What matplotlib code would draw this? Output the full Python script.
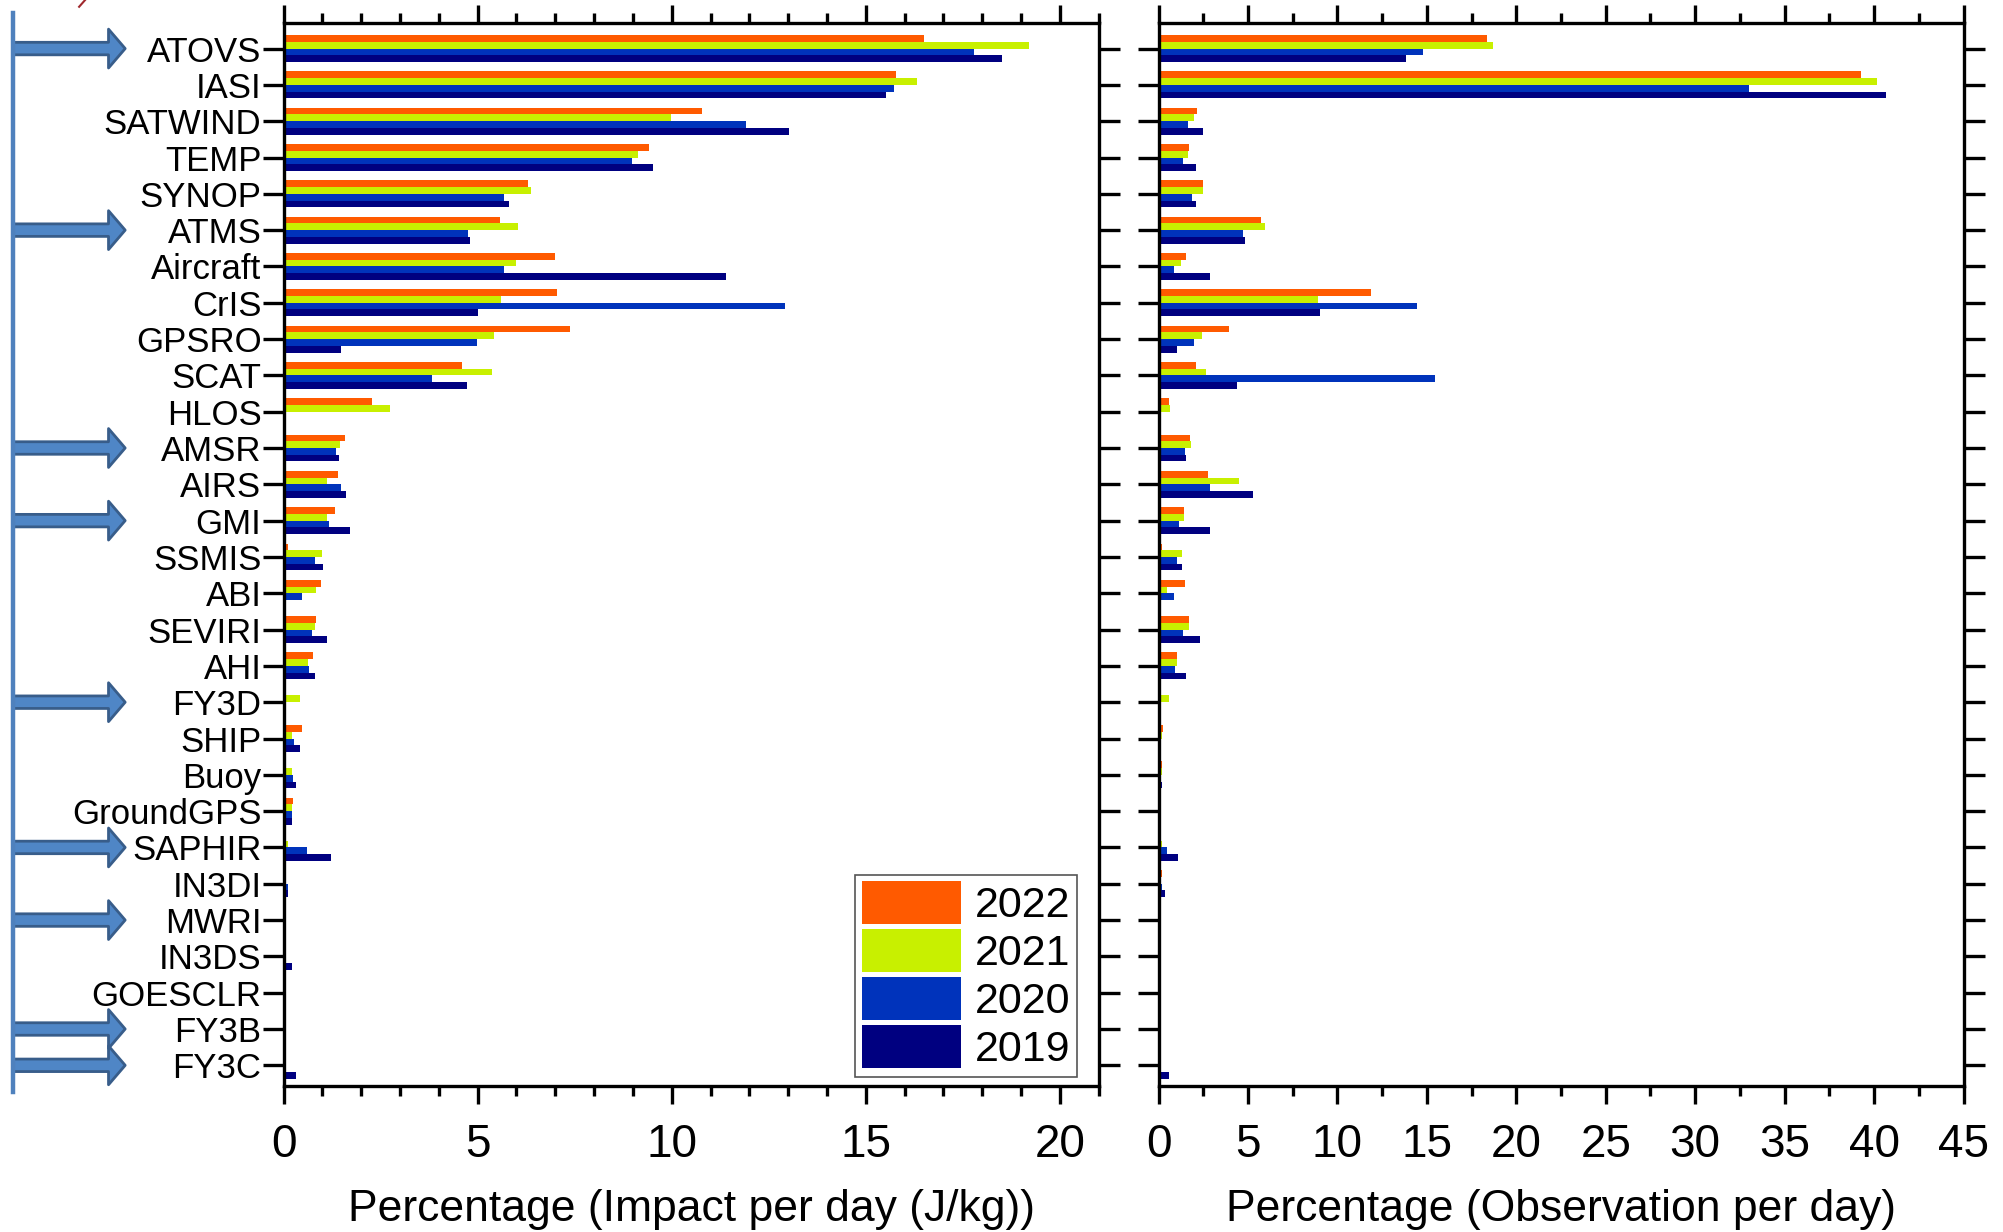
import matplotlib
matplotlib.use("Agg")
import matplotlib.pyplot as plt
import numpy as np
from matplotlib.lines import Line2D
from matplotlib.ticker import MultipleLocator

plt.rcParams['font.family'] = ['Liberation Sans', 'DejaVu Sans']

instruments = ['ATOVS', 'IASI', 'SATWIND', 'TEMP', 'SYNOP', 'ATMS', 'Aircraft', 'CrIS',
               'GPSRO', 'SCAT', 'HLOS', 'AMSR', 'AIRS', 'GMI', 'SSMIS', 'ABI', 'SEVIRI',
               'AHI', 'FY3D', 'SHIP', 'Buoy', 'GroundGPS', 'SAPHIR', 'IN3DI', 'MWRI',
               'IN3DS', 'GOESCLR', 'FY3B', 'FY3C']
years = ['2022', '2021', '2020', '2019']
colors = ['#ff5a00', '#c8f000', '#0033bb', '#000080']

# impact per day (percentage)
impact_2022 = [16.5, 15.77, 10.79, 9.42, 6.29, 5.57, 6.98, 7.04, 7.37, 4.59, 2.27, 1.57, 1.41,
               1.32, 0.10, 0.96, 0.83, 0.75, 0, 0.47, 0.06, 0.24, 0, 0.05, 0, 0, 0, 0, 0]
impact_2021 = [19.2, 16.33, 9.97, 9.13, 6.38, 6.04, 5.99, 5.60, 5.42, 5.37, 2.75, 1.44, 1.13,
               1.13, 0.98, 0.83, 0.80, 0.64, 0.41, 0.22, 0.22, 0.21, 0.12, 0.04, 0, 0, 0, 0, 0]
impact_2020 = [17.8, 15.73, 11.92, 8.98, 5.68, 4.76, 5.68, 12.93, 4.99, 3.83, 0, 1.36, 1.47,
               1.17, 0.80, 0.47, 0.73, 0.65, 0, 0.26, 0.24, 0.22, 0.61, 0.12, 0, 0, 0, 0, 0]
impact_2019 = [18.5, 15.53, 13.03, 9.53, 5.81, 4.81, 11.41, 5.01, 1.49, 4.72, 0, 1.42, 1.62,
               1.72, 1.01, 0, 1.11, 0.81, 0, 0.41, 0.31, 0.21, 1.22, 0.11, 0, 0.21, 0, 0, 0.31]

# observations per day (percentage)
obs_2022 = [18.35, 39.25, 2.17, 1.68, 2.46, 5.70, 1.56, 11.88, 3.95, 2.10, 0.56, 1.77, 2.74,
            1.44, 0.17, 1.47, 1.70, 1.06, 0, 0.24, 0.19, 0, 0, 0.17, 0, 0, 0, 0, 0]
obs_2021 = [18.67, 40.17, 1.99, 1.65, 2.46, 5.96, 1.28, 8.92, 2.44, 2.66, 0.65, 1.81, 4.51,
            1.40, 1.31, 0.50, 1.68, 1.06, 0.60, 0.21, 0.21, 0, 0.19, 0.15, 0, 0, 0, 0, 0]
obs_2020 = [14.80, 32.98, 1.65, 1.36, 1.85, 4.70, 0.88, 14.47, 2.01, 15.46, 0, 1.46, 2.89,
            1.12, 1.01, 0.86, 1.34, 0.91, 0, 0.11, 0.09, 0, 0.45, 0.21, 0, 0, 0, 0, 0.09]
obs_2019 = [13.84, 40.69, 2.49, 2.11, 2.08, 4.85, 2.85, 9.03, 1.06, 4.36, 0, 1.55, 5.28,
            2.87, 1.31, 0, 2.29, 1.55, 0, 0.13, 0.19, 0, 1.08, 0.35, 0, 0.15, 0, 0, 0.56]

arrow_rows = ['ATOVS', 'ATMS', 'AMSR', 'GMI', 'FY3D', 'SAPHIR', 'MWRI', 'FY3B', 'FY3C']

fig = plt.figure(figsize=(20.03, 12.32), dpi=100)
ax1 = fig.add_axes([0.1416, 0.1187, 0.4069, 0.8626])
ax2 = fig.add_axes([0.5784, 0.1187, 0.4019, 0.8626])

y = np.arange(len(instruments))
bar_h = 0.185
offsets = (np.arange(4) - 1.5) * bar_h


def draw_bars(ax, series):
    for k, vals in enumerate(series):
        ax.barh(y + offsets[k], vals, height=bar_h, color=colors[k],
                label=years[k], linewidth=0)


draw_bars(ax1, [impact_2022, impact_2021, impact_2020, impact_2019])
draw_bars(ax2, [obs_2022, obs_2021, obs_2020, obs_2019])

for ax in (ax1, ax2):
    ax.set_ylim(28.563, -0.703)
    ax.set_yticks(y)
    ax.tick_params(axis='y', which='major', direction='out', length=15, width=2.4,
                   left=True, right=True, pad=1)
    ax.tick_params(axis='x', which='both', direction='out', top=True, bottom=True,
                   width=2.4, labelsize=33, pad=14)
    ax.tick_params(axis='x', which='major', length=13)
    ax.tick_params(axis='x', which='minor', length=7)
    for s in ax.spines.values():
        s.set_linewidth(2.4)

ax1.set_xlim(0, 21)
ax1.xaxis.set_major_locator(MultipleLocator(5))
ax1.xaxis.set_minor_locator(MultipleLocator(1))
ax1.set_yticklabels(instruments, fontsize=25)
ax1.set_xlabel('Percentage (Impact per day (J/kg))', fontsize=32, labelpad=16)

ax2.set_xlim(0, 45)
ax2.xaxis.set_major_locator(MultipleLocator(5))
ax2.xaxis.set_minor_locator(MultipleLocator(2.5))
ax2.tick_params(axis='y', labelleft=False)
ax2.set_xlabel('Percentage (Observation per day)', fontsize=32, labelpad=16)

leg = ax1.legend(loc='lower right', bbox_to_anchor=(0.9735, 0.0085), borderaxespad=0,
                 fontsize=31, handlelength=2.3, handleheight=1.15, labelspacing=0.07,
                 handletextpad=0.33, borderpad=0.15, fancybox=False, framealpha=1)
leg.get_frame().set_edgecolor('#555555')
leg.get_frame().set_linewidth(1.2)

# blue guide line and arrows on the left
fig.add_artist(Line2D([0.0064, 0.0064], [0.1135, 0.9896], color='#4f81bd',
                      linewidth=3.2, transform=fig.transFigure))
fig.add_artist(Line2D([0.0395, 0.0425], [0.9945, 1.0], color='#a0282d',
                      linewidth=1.5, transform=fig.transFigure))
for name in arrow_rows:
    i = instruments.index(name)
    ax1.annotate('', xy=(0.0625, i), xycoords=('figure fraction', 'data'),
                 xytext=(0.0064, i), textcoords=('figure fraction', 'data'),
                 arrowprops=dict(arrowstyle='simple,head_length=0.6,head_width=1.4,tail_width=0.45',
                                 mutation_scale=20, fc='#4f86c6', ec='#385d8a', lw=2,
                                 shrinkA=0, shrinkB=0),
                 annotation_clip=False)

fig.savefig('out.png', dpi=100)
